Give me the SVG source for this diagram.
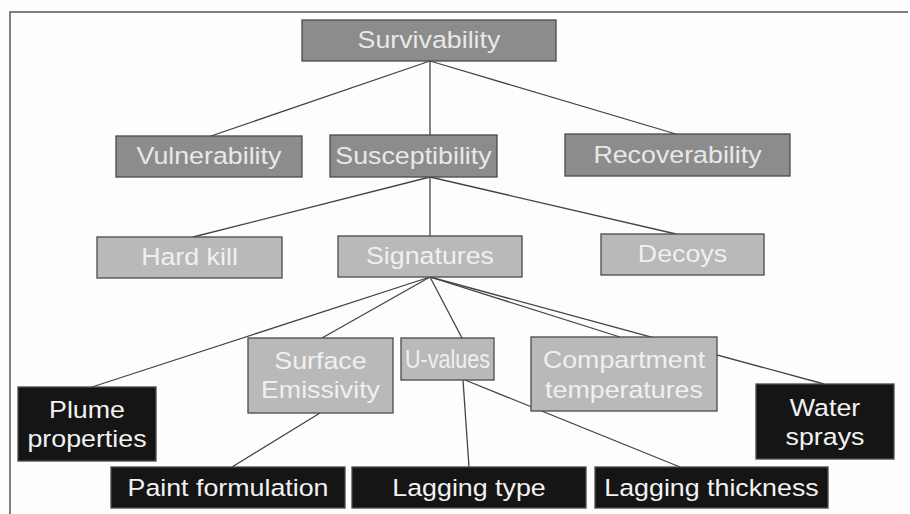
<svg xmlns="http://www.w3.org/2000/svg" width="910" height="514" viewBox="0 0 910 514">
<style>
  .bg { fill: #fdfdfd; }
  .frame { stroke: #555; stroke-width: 1.5; fill: none; }
  .c { stroke: #444; stroke-width: 1.3; fill: none; }
  .n rect { stroke: #4a4a4a; stroke-width: 1.3; }
  .mid rect { fill: #8c8c8c; }
  .light rect { fill: #b9b9b9; }
  .dark rect { fill: #151515; }
  text { font-family: "Liberation Sans", Arial, sans-serif; font-size: 23.5px; text-anchor: middle;
         transform-box: fill-box; transform-origin: center; transform: scaleX(1.14); }
  .mid text { fill: #e8e8e8; }
  .light text { fill: #f0f0f0; }
  .dark text { fill: #f2f2f2; }
  text.nos { transform: none; font-size: 25px; }
</style>
<rect class="bg" x="0" y="0" width="910" height="514"/>
<path class="frame" d="M10,514 V12 H908"/>

<g id="connectors">
  <line class="c" x1="430" y1="61" x2="211" y2="136"/>
  <line class="c" x1="430" y1="61" x2="430" y2="135"/>
  <line class="c" x1="430" y1="61" x2="676" y2="134"/>
  <line class="c" x1="430" y1="177" x2="193" y2="237"/>
  <line class="c" x1="430" y1="177" x2="430" y2="236"/>
  <line class="c" x1="430" y1="177" x2="676" y2="234"/>
  <line class="c" x1="430" y1="277" x2="92" y2="387"/>
  <line class="c" x1="430" y1="277" x2="322" y2="338"/>
  <line class="c" x1="430" y1="277" x2="462" y2="338"/>
  <line class="c" x1="430" y1="277" x2="620" y2="337"/>
  <line class="c" x1="430" y1="277" x2="824" y2="384"/>
  <line class="c" x1="320" y1="413" x2="232" y2="467"/>
  <line class="c" x1="463" y1="380" x2="469" y2="467"/>
  <line class="c" x1="465" y1="380" x2="680" y2="467"/>
</g>

<g id="survivability" class="n mid"><rect x="302" y="20" width="254" height="41"/><text x="429" y="48.5">Survivability</text></g>
<g id="vulnerability" class="n mid"><rect x="116" y="136" width="186" height="41"/><text x="209" y="164.5">Vulnerability</text></g>
<g id="susceptibility" class="n mid"><rect x="330" y="135" width="167" height="42"/><text x="413.5" y="164">Susceptibility</text></g>
<g id="recoverability" class="n mid"><rect x="565" y="134" width="225" height="42"/><text x="677.5" y="163">Recoverability</text></g>

<g id="hard-kill" class="n light"><rect x="97" y="237" width="185" height="41"/><text x="189.5" y="265.5">Hard kill</text></g>
<g id="signatures" class="n light"><rect x="338" y="236" width="184" height="41"/><text x="430" y="264.5">Signatures</text></g>
<g id="decoys" class="n light"><rect x="601" y="234" width="163" height="41"/><text x="682.5" y="262.5">Decoys</text></g>

<g id="plume-properties" class="n dark"><rect x="18" y="387" width="138" height="74"/><text x="87" y="418">Plume</text><text x="87" y="447">properties</text></g>
<g id="surface-emissivity" class="n light"><rect x="248" y="338" width="145" height="75"/><text x="320.5" y="369">Surface</text><text x="320.5" y="398">Emissivity</text></g>
<g id="u-values" class="n light"><rect x="401" y="338" width="93" height="42"/><text class="nos" x="447.5" y="367.5" textLength="85" lengthAdjust="spacingAndGlyphs">U-values</text></g>
<g id="compartment-temperatures" class="n light"><rect x="531" y="337" width="186" height="74"/><text x="624" y="368">Compartment</text><text x="624" y="398">temperatures</text></g>
<g id="water-sprays" class="n dark"><rect x="756" y="384" width="138" height="75"/><text x="825" y="416">Water</text><text x="825" y="445">sprays</text></g>

<g id="paint-formulation" class="n dark"><rect x="111" y="467" width="234" height="41"/><text x="228" y="496">Paint formulation</text></g>
<g id="lagging-type" class="n dark"><rect x="352" y="467" width="234" height="41"/><text x="469" y="496">Lagging type</text></g>
<g id="lagging-thickness" class="n dark"><rect x="595" y="467" width="233" height="41"/><text x="711.5" y="496">Lagging thickness</text></g>
</svg>
